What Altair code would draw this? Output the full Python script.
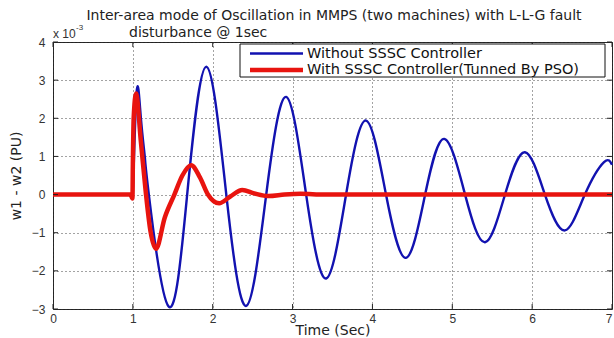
import altair as alt
import pandas as pd

# ---- data (values in units of 1e-3 PU) ----
blue_flat_t = [0.0, 1.0]
blue_flat_v = [0.0, 0.0]
blue_t = [1.0, 1.05, 1.10, 1.15, 1.20, 1.45, 1.68, 1.92, 2.17, 2.42, 2.67, 2.92,
          3.17, 3.42, 3.67, 3.92, 4.17, 4.42, 4.66, 4.90, 5.16, 5.41, 5.66,
          5.91, 6.16, 6.41, 6.66, 6.90, 7.0]
blue_v = [0.0, 2.75, 2.02, 0.98, 0.0, -2.94, 0.0, 3.35, 0.0, -2.92, 0.0, 2.56,
          0.0, -2.2, 0.0, 1.94, 0.0, -1.66, 0.0, 1.46, 0.0, -1.25, 0.0,
          1.11, 0.0, -0.94, 0.0, 0.85, 0.78]

red_t = [0.0, 0.97, 0.995, 1.0, 1.01, 1.04, 1.10, 1.16, 1.22, 1.29, 1.40, 1.52,
         1.62, 1.73, 1.84, 1.94, 2.08, 2.22, 2.37, 2.52, 2.70, 2.90, 3.10, 3.40, 7.0]
red_v = [0.0, 0.0, -0.1, 0.8, 2.0, 2.65, 1.4, 0.1, -0.95, -1.42, -0.6, 0.0,
         0.5, 0.77, 0.45, 0.0, -0.23, -0.05, 0.12, 0.03, -0.04, 0.0, 0.02, 0.0, 0.0]

x_ticks = [0, 1, 2, 3, 4, 5, 6, 7]
y_ticks = [-3, -2, -1, 0, 1, 2, 3, 4]

series_names = ["Without SSSC Controller", "With SSSC Controller(Tunned By PSO)"]
title_line1 = "Inter-area mode of Oscillation in MMPS (two machines) with L-L-G fault"
title_line2 = "disturbance @ 1sec"
x_title = "Time (Sec)"
y_title = "w1 - w2 (PU)"

BLUE = "#1212b0"
RED = "#e8140f"
W, H = 559, 267
TXT_FONT = "DejaVu Sans"
TICK_FONT = "Liberation Sans"

blue_df = pd.concat([
    pd.DataFrame({"t": blue_flat_t, "v": blue_flat_v, "seg": "a"}),
    pd.DataFrame({"t": blue_t, "v": blue_v, "seg": "b"}),
])
red_df = pd.DataFrame({"t": red_t, "v": red_v})
xt_df = pd.DataFrame({"t": x_ticks})
yt_df = pd.DataFrame({"v": y_ticks})
one = pd.DataFrame({"a": [0]})

xs = alt.Scale(domain=[0, 7], nice=False, zero=False)
ys = alt.Scale(domain=[-3, 4], nice=False, zero=False)

x_axis = alt.Axis(values=x_ticks, format="d", labelOverlap=False, title=x_title,
                  grid=True, gridDash=[1, 3], gridColor="#333", gridOpacity=0.9,
                  ticks=False, domain=False,
                  labelFont=TICK_FONT, labelFontSize=12, labelColor="#333",
                  labelPadding=4, labelFlush=False,
                  labelAlign={"condition": {"test": "datum.value == 7", "value": "right"},
                              "value": "center"},
                  titleFont=TXT_FONT, titleFontSize=14, titleFontWeight="normal",
                  titleColor="#222", titleBaseline="bottom", titleY=28)
y_axis = alt.Axis(values=y_ticks, format="d", labelOverlap=False, title=y_title,
                  grid=True, gridDash=[1, 3], gridColor="#333", gridOpacity=0.9,
                  ticks=False, domain=False,
                  labelFont=TICK_FONT, labelFontSize=12, labelColor="#333",
                  labelPadding=8, labelFlush=False,
                  titleFont=TXT_FONT, titleFontSize=14, titleFontWeight="normal",
                  titleColor="#222", titlePadding=8)

X = alt.X("t:Q", scale=xs, axis=x_axis)
Y = alt.Y("v:Q", scale=ys, axis=y_axis)

blue = alt.Chart(blue_df).mark_line(interpolate="natural", color=BLUE, strokeWidth=2.4).encode(
    x=X, y=Y, detail="seg:N",
)
red = alt.Chart(red_df).mark_line(interpolate="monotone", color=RED, strokeWidth=4.5).encode(
    x=X, y=Y,
)

# inward ticks on all four sides (MATLAB box)
tick_style = dict(color="#222", strokeWidth=1)
xt_bottom = alt.Chart(xt_df).mark_rule(**tick_style).encode(
    x=X, y=alt.value(H), y2=alt.value(H - 5))
xt_top = alt.Chart(xt_df).mark_rule(**tick_style).encode(
    x=X, y=alt.value(0), y2=alt.value(5))
yt_left = alt.Chart(yt_df).mark_rule(**tick_style).encode(
    y=Y, x=alt.value(0), x2=alt.value(5))
yt_right = alt.Chart(yt_df).mark_rule(**tick_style).encode(
    y=Y, x=alt.value(W - 5), x2=alt.value(W))

# legend box
LEG_FS = 14.5
leg_box = alt.Chart(one).mark_rect(fill="white", stroke="#111", strokeWidth=1).encode(
    x=alt.value(187), x2=alt.value(552), y=alt.value(2), y2=alt.value(35))
leg_l1 = alt.Chart(one).mark_rule(color=BLUE, strokeWidth=2.4).encode(
    x=alt.value(197), x2=alt.value(250), y=alt.value(11.5))
leg_l2 = alt.Chart(one).mark_rule(color=RED, strokeWidth=4.5).encode(
    x=alt.value(197), x2=alt.value(250), y=alt.value(28))
leg_t1 = alt.Chart(one).mark_text(text=series_names[0], align="left", baseline="middle",
                                  font=TXT_FONT, fontSize=LEG_FS, color="#111").encode(
    x=alt.value(254), y=alt.value(11.5))
leg_t2 = alt.Chart(one).mark_text(text=series_names[1], align="left", baseline="middle",
                                  font=TXT_FONT, fontSize=LEG_FS, color="#111").encode(
    x=alt.value(254), y=alt.value(28))

# title and exponent label
TITLE_FS = 14
t1 = alt.Chart(one).mark_text(text=title_line1, align="center", baseline="middle",
                              font=TXT_FONT, fontSize=TITLE_FS, color="#222").encode(
    x=alt.value(281), y=alt.value(-26))
t2 = alt.Chart(one).mark_text(text=title_line2, align="left", baseline="middle",
                              font=TXT_FONT, fontSize=TITLE_FS, color="#222").encode(
    x=alt.value(76), y=alt.value(-9))
ex1 = alt.Chart(one).mark_text(text="x 10", align="left", baseline="middle",
                               font=TICK_FONT, fontSize=12, color="#333").encode(
    x=alt.value(0), y=alt.value(-8))
ex2 = alt.Chart(one).mark_text(text="-3", align="left", baseline="middle",
                               font=TICK_FONT, fontSize=8, color="#333").encode(
    x=alt.value(23), y=alt.value(-14))

chart = alt.layer(
    blue, red, xt_bottom, xt_top, yt_left, yt_right,
    leg_box, leg_l1, leg_l2, leg_t1, leg_t2, t1, t2, ex1, ex2,
).properties(
    width=W, height=H,
    autosize=alt.AutoSizeParams(type="none"),
    padding={"left": 53, "top": 42, "right": 2, "bottom": 29},
    background="white",
).configure_view(stroke="#222", strokeWidth=1)

chart.save("out.html", embed_options={"renderer": "svg", "actions": False})
